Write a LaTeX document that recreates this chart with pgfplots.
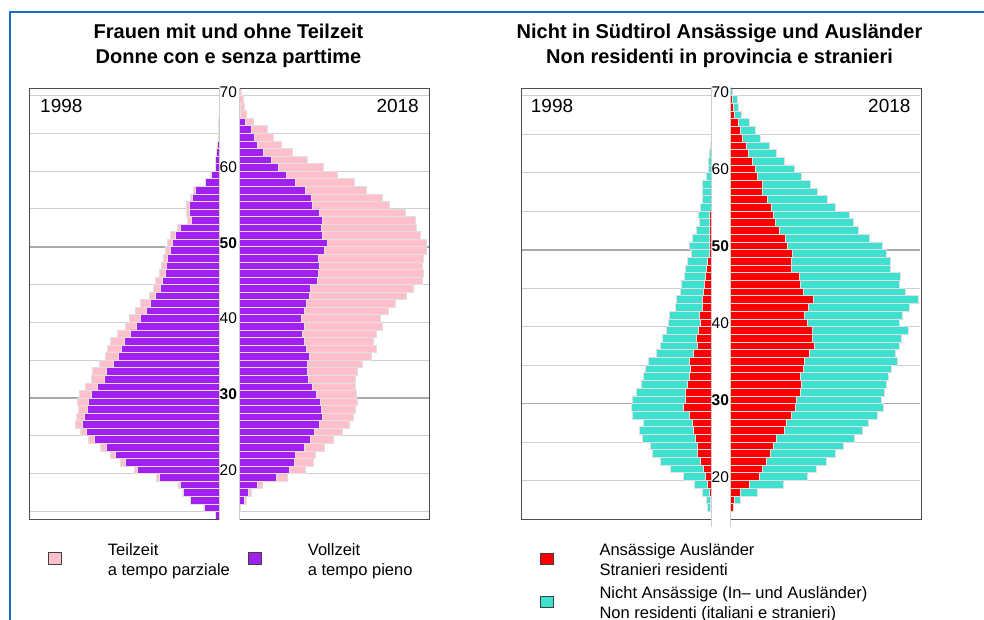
\documentclass[border=0pt]{standalone}
\usepackage{fontspec}
\setmainfont{Liberation Sans}
\usepackage{pgfplots}
\pgfplotsset{compat=1.18}
\usepackage{pgfplotstable}

\definecolor{vpurple}{HTML}{A020F0}
\definecolor{tpink}{HTML}{FFC0CB}
\definecolor{rred}{HTML}{FF0000}
\definecolor{turq}{HTML}{40E0D0}
\definecolor{gridc}{HTML}{CFCFCF}
\definecolor{gridb}{HTML}{A9A9A9}
\definecolor{barline}{HTML}{E0E0E0}
\definecolor{framec}{HTML}{4D4D4D}
\definecolor{bluef}{HTML}{1C6DC2}

% Frauen 1998: p = Vollzeit, t = Teilzeit
\pgfplotstableread{
age p t
14 3.3 0
15 14.7 1
16 28.3 0.7
17 35.7 1.3
18 39 1.3
19 60 2.3
20 81.3 3.7
21 94 4.3
22 104 5
23 113 5.3
24 125 5.7
25 133 6
26 136.3 7.4
27 135 8
28 131.3 9.4
29 130.7 10.6
30 128 11.7
31 121.3 12
32 114.7 12.6
33 112.3 14.7
34 105.7 14
35 100.7 13
36 97.7 14
37 95 13.3
38 89 12.3
39 83 11
40 78.3 11.4
41 73 10.3
42 69 9.3
43 63.3 6.4
44 59 6.7
45 56.7 7.3
46 54 5.7
47 52.3 5
48 51.7 4
49 49 4.3
50 46.3 5
51 44 5
52 38.3 3.4
53 28 3.3
54 30 3
55 30 3
56 26.3 2.7
57 23.3 2.4
58 13.3 0.5
59 7.3 1
60 3.7 0
61 3.3 0
62 2.3 0
63 1.5 0
64 1 0
65 1 0
66 0.7 0
67 0 0
68 0 0
69 0 0
70 0 0
}\LA

% Frauen 2018
\pgfplotstableread{
age p t
14 0 0
15 1.7 0
16 5.7 1.3
17 9.7 2.3
18 18.3 5
19 37 11.7
20 50.3 16.4
21 55.3 19
22 56.7 20
23 65.3 19.7
24 71 23.3
25 75.3 28
26 80 30.3
27 83 31.3
28 82 34
29 81 37.3
30 77.3 40
31 73 43.3
32 69.7 46.6
33 68.7 50
34 68.3 54.7
35 70.3 62
36 67 70
37 65 69.3
38 63.7 73.3
39 65 78
40 62.3 78.7
41 65 84
42 67 89.7
43 70.3 97.4
44 71 103.3
45 78.3 105
46 79.3 105
47 80 103.3
48 79.7 104.6
49 85 102.7
50 88 99
51 83.7 98
52 82 95.7
53 83 93
54 80 86
55 73 77.3
56 72 71.7
57 66 61.7
58 56 59.3
59 47.7 50.6
60 39.7 44.6
61 32 36.7
62 24 29.3
63 18.7 23.3
64 15 19.3
65 12 16.3
66 6 8.3
67 1.3 5.7
68 1 4.3
69 0.3 4
70 0 2.7
}\LB

% Nicht Ansaessige 1998: r = Ansaessige Auslaender, c = Nicht Ansaessige
\pgfplotstableread{
age r c
15 0 0
16 0.3 3
17 1 4
18 2 7
19 3.7 13.3
20 5.7 21.6
21 8 33
22 10.3 40.7
23 14 44.3
24 13.7 47
25 15.7 53
26 18 54
27 18.7 49
28 22 56.3
29 27.7 52.3
30 25.3 53.7
31 26 49
32 23.3 46
33 22 46
34 20.3 45.7
35 21.7 40.6
36 18 37
37 14 36.3
38 15 34
39 13 32
40 11 32
41 12 29.7
42 9 27
43 9 26
44 7.3 23
45 6.3 23
46 5.7 21
47 4.3 21.7
48 3.7 19.6
49 1.7 18.3
50 2 19.3
51 1.3 17.4
52 1.7 13
53 1.7 10.3
54 1.7 11.3
55 0 10.7
56 0 8.7
57 0 8.7
58 0 8.3
59 0 5
60 0 3
61 0 2.7
62 0 1.3
63 0 1
64 0 0
65 0 0
66 0 0
67 0 0
68 0 0
69 0 0
70 0 0
}\RA

% 2018
\pgfplotstableread{
age r c
15 0 0
16 3.3 0
17 4.7 5.3
18 10.3 17.4
19 19.7 34
20 29.3 48
21 32.3 54
22 36.3 60
23 40 65
24 43.3 70
25 46.7 77.3
26 54 78.3
27 56.3 82.4
28 61.3 86
29 65.7 87.6
30 66.3 85
31 70 84.7
32 71.3 84.7
33 70.7 88
34 73.3 88
35 74.3 92.7
36 79.3 86
37 84 85.3
38 82.3 89.4
39 82.7 95.3
40 77.3 92.4
41 74.7 97.6
42 78.7 100.6
43 83.3 105
44 73.3 102.4
45 70.3 99
46 69.7 100.3
47 61.3 98.7
48 61.3 98.7
49 62 94
50 57.3 95.4
51 55 84.3
52 49.3 79
53 45.3 77.7
54 43.3 75.7
55 41.3 64
56 37.3 60
57 32.3 55
58 32.3 47.7
59 27.7 43.6
60 25 39.7
61 22.3 32
62 18.7 28
63 16 23
64 12.7 17.3
65 10.7 14.6
66 8.3 11
67 4 7.7
68 3 5.3
69 2.3 5
70 0.7 2
}\RB

\pgfplotsset{
  pyr/.style={
    scale only axis, width=190pt, height=431pt, anchor=south west,
    xbar stacked, bar width=1,
    enlargelimits=false,
    axis line style={draw=none},
    xtick=\empty,
    ytick={15,20,25,35,40,45,55,60,65,70},
    extra y ticks={30,50},
    ymajorgrids,
    major grid style={gridc, line width=1pt},
    extra y tick style={major grid style={gridb, line width=1.8pt}},
    major tick length=0pt,
  },
  leftside/.style={pyr, xmin=-190, xmax=0,
    yticklabel pos=right,
    yticklabels={{},20,{},{},40,{},{},60,{},70},
    extra y tick labels={\textbf{30},\textbf{50}},
    yticklabel style={anchor=west, inner sep=0pt, xshift=0.5pt, yshift=3.8pt,
      font=\fontsize{15.5}{16}\selectfont},
  },
  rightside/.style={pyr, xmin=0, xmax=190,
    yticklabels={{},{},{},{},{},{},{},{},{},{}},
    extra y tick labels={{},{}},
  },
  barst/.style={draw=barline, line width=0.7pt},
}

\begin{document}
\begin{tikzpicture}[x=1pt,y=1pt]
\useasboundingbox (0pt,0pt) rectangle (984pt,619pt);

% ---------- left panel ----------
\begin{axis}[leftside, ymin=14, ymax=71, at={(29pt,100pt)}]
\addplot[barst, fill=vpurple] table[x expr=-\thisrow{p}, y expr=\thisrow{age}+0.5]{\LA};
\addplot[barst, fill=tpink] table[x expr=-\thisrow{t}, y expr=\thisrow{age}+0.5]{\LA};
\end{axis}
\begin{axis}[rightside, ymin=14, ymax=71, at={(239pt,100pt)}]
\addplot[barst, fill=vpurple] table[x=p, y expr=\thisrow{age}+0.5]{\LB};
\addplot[barst, fill=tpink] table[x=t, y expr=\thisrow{age}+0.5]{\LB};
\end{axis}

% ---------- right panel ----------
\begin{axis}[leftside, ymin=15, ymax=71, at={(521pt,100pt)}]
\addplot[barst, fill=rred] table[x expr=-\thisrow{r}, y expr=\thisrow{age}+0.5]{\RA};
\addplot[barst, fill=turq] table[x expr=-\thisrow{c}, y expr=\thisrow{age}+0.5]{\RA};
\end{axis}
\begin{axis}[rightside, ymin=15, ymax=71, at={(730pt,100pt)}]
\addplot[barst, fill=rred] table[x=r, y expr=\thisrow{age}+0.5]{\RB};
\addplot[barst, fill=turq] table[x=c, y expr=\thisrow{age}+0.5]{\RB};
\end{axis}

% frames
\begin{scope}[framec, line width=0.9pt]
\draw (219pt,100pt) -- (29pt,100pt) -- (29pt,531pt) -- (219pt,531pt);
\draw (239pt,100pt) -- (429pt,100pt) -- (429pt,531pt) -- (239pt,531pt);
\draw (711pt,100pt) -- (521pt,100pt) -- (521pt,531pt) -- (711pt,531pt);
\draw (730pt,100pt) -- (921pt,100pt) -- (921pt,531pt) -- (730pt,531pt);
\end{scope}
\begin{scope}[gridc, line width=1pt]
\draw (219pt,99pt) -- (219pt,531pt);
\draw (239pt,99pt) -- (239pt,531pt);
\draw (711pt,92pt) -- (711pt,532pt);
\draw (730pt,92pt) -- (730pt,532pt);
\end{scope}

% titles
\begin{scope}[every node/.style={anchor=base, inner sep=0pt, font=\fontsize{20}{24}\selectfont\bfseries}]
\node at (228.5pt,580pt) {Frauen mit und ohne Teilzeit};
\node at (228.5pt,555.5pt) {Donne con e senza parttime};
\node at (719.5pt,580pt) {Nicht in Südtirol Ansässige und Ausländer};
\node at (719.5pt,555.5pt) {Non residenti in provincia e stranieri};
\end{scope}

% year labels
\begin{scope}[every node/.style={inner sep=0pt, font=\fontsize{19}{22}\selectfont}]
\node[anchor=base west] at (40pt,506.7pt) {1998};
\node[anchor=base east] at (419pt,506.7pt) {2018};
\node[anchor=base west] at (530.7pt,506.7pt) {1998};
\node[anchor=base east] at (910.7pt,506.7pt) {2018};
\end{scope}

% legends
\begin{scope}[draw=black!75, line width=0.8pt]
\draw[fill=tpink] (48.3pt,55pt) rectangle (61.7pt,66.3pt);
\draw[fill=vpurple] (248.3pt,55pt) rectangle (261.7pt,66.3pt);
\draw[fill=rred] (540pt,55pt) rectangle (553.3pt,65.7pt);
\draw[fill=turq] (540pt,11.3pt) rectangle (553.3pt,22.3pt);
\end{scope}
\begin{scope}[every node/.style={anchor=base west, inner sep=0pt, font=\fontsize{16.5}{19}\selectfont}]
\node at (107.7pt,63.3pt) {Teilzeit};
\node at (107.7pt,44pt) {a tempo parziale};
\node at (307.7pt,63.3pt) {Vollzeit};
\node at (307.7pt,44pt) {a tempo pieno};
\node at (599.3pt,63.3pt) {Ansässige Ausländer};
\node at (599.3pt,43.3pt) {Stranieri residenti};
\node at (599.3pt,20.3pt) {Nicht Ansässige (In– und Ausländer)};
\node[overlay] at (599.3pt,1pt) {Non residenti (italiani e stranieri)};
\end{scope}

% outer blue frame (cut by the page edge)
\draw[overlay, bluef, line width=2pt] (10pt,-30pt) -- (10pt,606.5pt) -- (1020pt,606.5pt);
\end{tikzpicture}
\end{document}
